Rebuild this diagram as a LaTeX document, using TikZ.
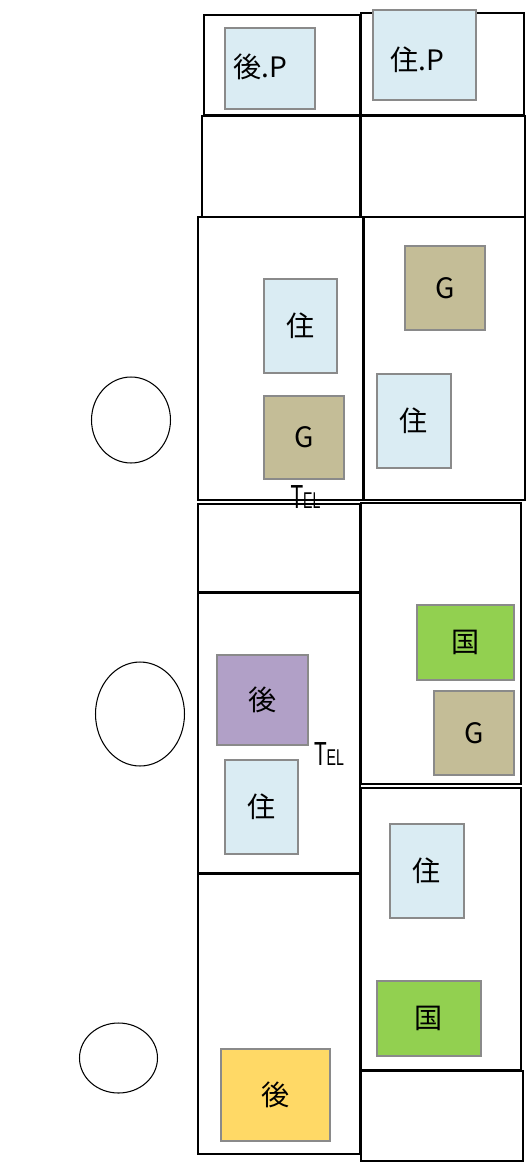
\documentclass[tikz,border=0pt]{standalone}
\usepackage{fontspec}
\setmainfont{Liberation Sans}
\newfontfamily\cjk{Noto Sans CJK JP}
\usetikzlibrary{shapes.geometric}
\definecolor{paleblue}{HTML}{DAECF3}
\definecolor{khaki}{HTML}{C4BD97}
\definecolor{leaf}{HTML}{92D050}
\definecolor{lilac}{HTML}{B1A0C7}
\definecolor{amber}{HTML}{FFD966}
\definecolor{edgegray}{HTML}{8A8A8A}
\tikzstyle{room} = [rectangle,inner sep=0pt,draw=black,line width=1.5pt]
\tikzstyle{item} = [rectangle,inner sep=0pt,text centered,draw=edgegray,line width=1.4pt,font=\fontsize{16}{18}\selectfont\cjk]
\tikzstyle{seat} = [ellipse,inner sep=0pt,draw=black,line width=0.6pt,fill=white]
\tikzstyle{phone} = [inner sep=0pt,xscale=0.62,font=\fontsize{19}{20}\selectfont]
\newcommand{\tellabel}{T{\fontsize{13}{14}\selectfont EL}}

\begin{document}
\begin{tikzpicture}[x=0.02cm,y=-0.02cm]
\useasboundingbox (0,0) rectangle (531,1170);

\node(room1) [room, minimum width=3.12cm, minimum height=2cm] at (282,65) {};
\node(room2) [room, minimum width=3.26cm, minimum height=2.04cm] at (442.5,64) {};
\node(room3) [room, minimum width=3.16cm, minimum height=2.02cm] at (281,166.5) {};
\node(room4) [room, minimum width=3.28cm, minimum height=2.02cm] at (443,166.5) {};
\node(room5) [room, minimum width=3.3cm, minimum height=5.66cm] at (280.5,358.5) {};
\node(room6) [room, minimum width=3.22cm, minimum height=5.66cm] at (444.5,358.5) {};
\node(room7) [room, minimum width=3.24cm, minimum height=1.76cm] at (279,548) {};
\node(room8) [room, minimum width=3.2cm, minimum height=5.62cm] at (441,643.5) {};
\node(room9) [room, minimum width=3.24cm, minimum height=5.6cm] at (279,733) {};
\node(room10) [room, minimum width=3.2cm, minimum height=5.64cm] at (441,929) {};
\node(room11) [room, minimum width=3.24cm, minimum height=5.6cm] at (279,1014) {};
\node(room12) [room, minimum width=3.24cm, minimum height=1.8cm] at (442,1116) {};

\node(kouP) [item, fill=paleblue, minimum width=1.8cm, minimum height=1.62cm] at (270,68.5) {\raisebox{0.04cm}[\height][\depth]{後.P}\hspace*{0.38cm}};
\node(juP) [item, fill=paleblue, minimum width=2.06cm, minimum height=1.8cm] at (424.5,55) {\raisebox{-0.1cm}[\height][\depth]{住.P}\hspace*{0.3cm}};
\node(ju1) [item, fill=paleblue, minimum width=1.46cm, minimum height=1.88cm] at (300.5,326) {住};
\node(g1) [item, fill=khaki, minimum width=1.6cm, minimum height=1.66cm] at (304,437.5) {G};
\node(g2) [item, fill=khaki, minimum width=1.6cm, minimum height=1.68cm] at (445,288) {G};
\node(ju2) [item, fill=paleblue, minimum width=1.48cm, minimum height=1.88cm] at (414,421) {住};
\node(koku1) [item, fill=leaf, minimum width=1.94cm, minimum height=1.5cm] at (465.5,642.5) {国};
\node(g3) [item, fill=khaki, minimum width=1.6cm, minimum height=1.68cm] at (474,733) {G};
\node(kou1) [item, fill=lilac, minimum width=1.82cm, minimum height=1.8cm] at (262.5,700) {後};
\node(ju3) [item, fill=paleblue, minimum width=1.46cm, minimum height=1.88cm] at (261.5,807) {住};
\node(ju4) [item, fill=paleblue, minimum width=1.48cm, minimum height=1.88cm] at (427,871) {住};
\node(koku2) [item, fill=leaf, minimum width=2.08cm, minimum height=1.5cm] at (429,1018.5) {国};
\node(kou2) [item, fill=amber, minimum width=2.18cm, minimum height=1.84cm] at (275.5,1095) {後};

\node(tel1) [phone] at (305.5,497) {\tellabel};
\node(tel2) [phone] at (329,754) {\tellabel};

\node(seat1) [seat, minimum width=1.58cm, minimum height=1.72cm] at (131,420) {};
\node(seat2) [seat, minimum width=1.78cm, minimum height=2.08cm] at (140,714) {};
\node(seat3) [seat, minimum width=1.56cm, minimum height=1.4cm] at (118.5,1058) {};

\end{tikzpicture}
\end{document}
